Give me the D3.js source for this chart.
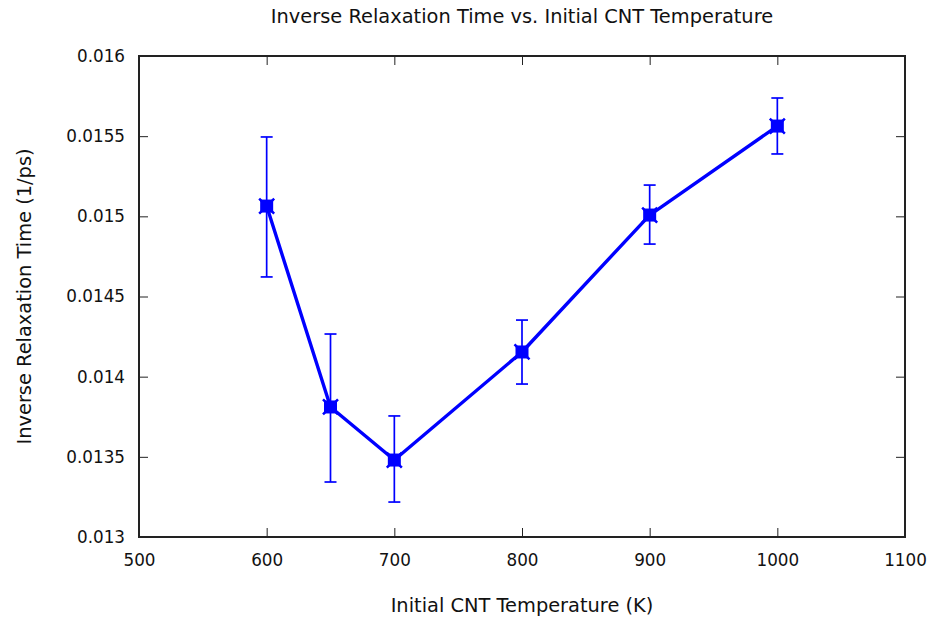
<!DOCTYPE html>
<html>
<head>
<meta charset="utf-8">
<script src="https://cdn.jsdelivr.net/npm/d3@7"></script>
<style>
  html, body { margin: 0; padding: 0; background: #fff; }
  text { font-family: "DejaVu Sans", Verdana, sans-serif; fill: #111; }
</style>
</head>
<body>
<svg id="chart" width="934" height="619"></svg>
<script>
// Temperatures (K) and measured inverse relaxation times (1/ps)
const temperatures = [600, 650, 700, 800, 900, 1000];
const rateValues   = [0.015064, 0.013811, 0.013480, 0.014154, 0.015008, 0.015563];
const rateLow      = [0.014622, 0.013343, 0.013218, 0.013954, 0.014827, 0.015389];
const rateHigh     = [0.015495, 0.014266, 0.013755, 0.014353, 0.015195, 0.015738];

const xTicks = [500, 600, 700, 800, 900, 1000, 1100];
const yTicks = [0.013, 0.0135, 0.014, 0.0145, 0.015, 0.0155, 0.016];

const titleText  = "Inverse Relaxation Time vs. Initial CNT Temperature";
const xLabelText = "Initial CNT Temperature (K)";
const yLabelText = "Inverse Relaxation Time (1/ps)";

const svg = d3.select("#chart");
const W = 934, H = 619;
const margin = { left: 139, right: W - 905, top: 56, bottom: H - 537 };

const x = d3.scaleLinear().domain([500, 1100]).range([margin.left, W - margin.right]);
const y = d3.scaleLinear().domain([0.013, 0.016]).range([H - margin.bottom, margin.top]);

const color = "#0000ff";
const tickFont = 16.8;
const labelFont = 19.4;

// Bottom axis: ticks inward, mirrored on top
const xAxis = d3.axisBottom(x).tickValues(xTicks).tickSizeInner(-9).tickSizeOuter(0)
  .tickPadding(14).tickFormat(d3.format("d"));
const gx = svg.append("g").attr("transform", `translate(0,${y.range()[0]})`).call(xAxis);
const xTop = d3.axisTop(x).tickValues(xTicks).tickSizeInner(-9).tickSizeOuter(0).tickFormat("");
const gxt = svg.append("g").attr("transform", `translate(0,${y.range()[1]})`).call(xTop);

const yAxis = d3.axisLeft(y).tickValues(yTicks).tickSizeInner(-9).tickSizeOuter(0)
  .tickPadding(14).tickFormat(d => String(+d.toFixed(4)));
const gy = svg.append("g").attr("transform", `translate(${x.range()[0]},0)`).call(yAxis);
const yRight = d3.axisRight(y).tickValues(yTicks).tickSizeInner(-9).tickSizeOuter(0).tickFormat("");
const gyr = svg.append("g").attr("transform", `translate(${x.range()[1]},0)`).call(yRight);

[gx, gxt, gy, gyr].forEach(g => {
  g.select(".domain").remove();
  g.selectAll(".tick line").attr("stroke", "#222").attr("stroke-width", 1);
  g.selectAll(".tick text").attr("font-size", tickFont).attr("font-family", "DejaVu Sans").attr("fill", "#111");
});
gx.selectAll(".tick text").attr("dy", "0.9em");

// Plot frame
svg.append("rect")
  .attr("x", x.range()[0]).attr("y", y.range()[1])
  .attr("width", x.range()[1] - x.range()[0])
  .attr("height", y.range()[0] - y.range()[1])
  .attr("fill", "none").attr("stroke", "#222").attr("stroke-width", 2);

const data = temperatures.map((t, i) => ({ t, v: rateValues[i], lo: rateLow[i], hi: rateHigh[i] }));

// Connecting line
svg.append("path").datum(data)
  .attr("fill", "none").attr("stroke", color).attr("stroke-width", 3.4)
  .attr("stroke-linejoin", "round")
  .attr("d", d3.line().x(d => x(d.t)).y(d => y(d.v)));

// Error bars
const cap = 6;
const eb = svg.append("g").attr("stroke", color).attr("stroke-width", 1.7);
data.forEach(d => {
  eb.append("line").attr("x1", x(d.t)).attr("x2", x(d.t)).attr("y1", y(d.lo)).attr("y2", y(d.hi));
  eb.append("line").attr("x1", x(d.t) - cap).attr("x2", x(d.t) + cap).attr("y1", y(d.lo)).attr("y2", y(d.lo));
  eb.append("line").attr("x1", x(d.t) - cap).attr("x2", x(d.t) + cap).attr("y1", y(d.hi)).attr("y2", y(d.hi));
});

// Markers: filled square overlaid with a cross
const mk = svg.append("g");
data.forEach(d => {
  const cx = x(d.t), cy = y(d.v);
  mk.append("rect").attr("x", cx - 6.5).attr("y", cy - 6.5).attr("width", 13).attr("height", 13).attr("fill", color);
  mk.append("path")
    .attr("d", `M${cx - 7.5},${cy - 7.5}L${cx + 7.5},${cy + 7.5}M${cx - 7.5},${cy + 7.5}L${cx + 7.5},${cy - 7.5}`)
    .attr("stroke", color).attr("stroke-width", 2.5);
});

// Titles
svg.append("text").attr("x", (x.range()[0] + x.range()[1]) / 2).attr("y", 23)
  .attr("text-anchor", "middle").attr("font-size", labelFont).text(titleText);
svg.append("text").attr("x", (x.range()[0] + x.range()[1]) / 2).attr("y", 612)
  .attr("text-anchor", "middle").attr("font-size", labelFont).text(xLabelText);
svg.append("text")
  .attr("transform", `translate(31,${(y.range()[0] + y.range()[1]) / 2}) rotate(-90)`)
  .attr("text-anchor", "middle").attr("font-size", labelFont).text(yLabelText);
</script>
</body>
</html>
